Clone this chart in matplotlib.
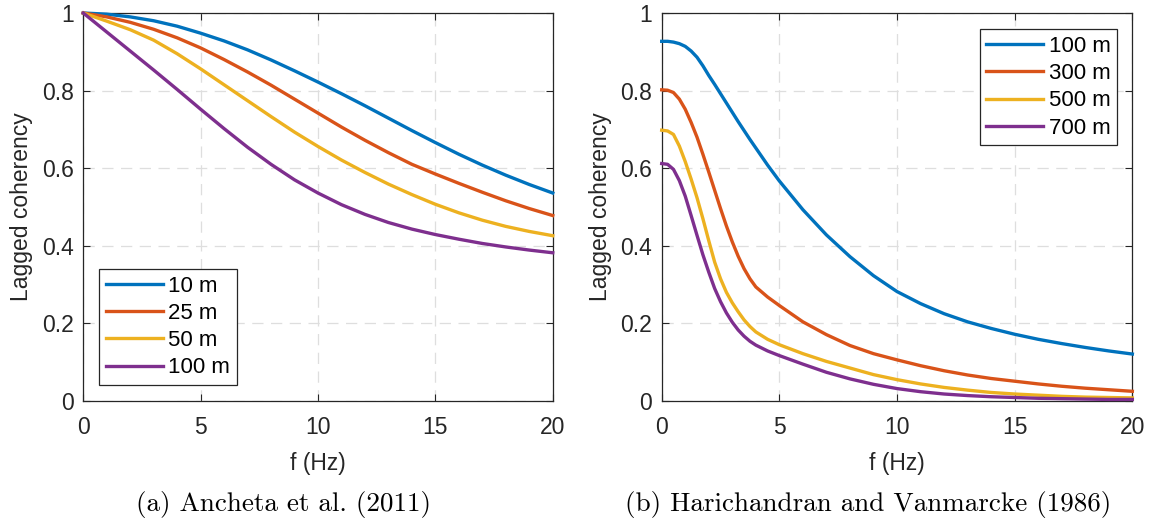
import matplotlib.pyplot as plt

# frequency (Hz)
f_a = list(range(21))
f_b = [0, 0.25, 0.5, 0.75, 1, 1.25, 1.5, 1.75, 2, 2.25, 2.5, 2.75, 3, 3.25, 3.5,
       3.75, 4, 4.5, 5, 6, 7, 8, 9, 10, 11, 12, 13, 14, 15, 16, 17, 18, 19, 20]

# (a) Ancheta et al. (2011)
anc_10 = [1, 0.997, 0.990, 0.980, 0.966, 0.948, 0.928, 0.905, 0.879, 0.851, 0.822,
          0.792, 0.761, 0.729, 0.697, 0.666, 0.636, 0.608, 0.582, 0.558, 0.536]
anc_25 = [1, 0.990, 0.976, 0.958, 0.936, 0.910, 0.880, 0.848, 0.814, 0.778, 0.742,
          0.706, 0.672, 0.640, 0.610, 0.585, 0.561, 0.538, 0.516, 0.496, 0.478]
anc_50 = [1, 0.979, 0.957, 0.930, 0.895, 0.856, 0.815, 0.774, 0.733, 0.693, 0.656,
          0.621, 0.589, 0.559, 0.532, 0.507, 0.485, 0.466, 0.450, 0.437, 0.426]
anc_100 = [1, 0.951, 0.902, 0.853, 0.803, 0.752, 0.702, 0.654, 0.610, 0.570, 0.536,
           0.506, 0.481, 0.460, 0.443, 0.429, 0.417, 0.406, 0.397, 0.389, 0.382]

# (b) Harichandran and Vanmarcke (1986)
hv_100 = [0.927, 0.927, 0.925, 0.921, 0.914, 0.902, 0.886, 0.864, 0.839, 0.816,
          0.792, 0.768, 0.744, 0.720, 0.697, 0.674, 0.652, 0.608, 0.567,
          0.493, 0.428, 0.372, 0.323, 0.282, 0.251, 0.225, 0.204, 0.187, 0.172,
          0.159, 0.148, 0.138, 0.129, 0.121]
hv_300 = [0.802, 0.801, 0.795, 0.778, 0.752, 0.718, 0.680, 0.636, 0.590, 0.543,
          0.496, 0.451, 0.410, 0.373, 0.341, 0.315, 0.294, 0.268, 0.246,
          0.204, 0.171, 0.143, 0.122, 0.106, 0.091, 0.078, 0.067, 0.058, 0.051,
          0.044, 0.038, 0.033, 0.029, 0.025]
hv_500 = [0.698, 0.696, 0.687, 0.657, 0.617, 0.572, 0.524, 0.470, 0.413, 0.358,
          0.315, 0.280, 0.253, 0.230, 0.209, 0.192, 0.178, 0.159, 0.145,
          0.122, 0.102, 0.085, 0.068, 0.055, 0.044, 0.035, 0.028, 0.022, 0.018,
          0.015, 0.012, 0.010, 0.009, 0.008]
hv_700 = [0.612, 0.610, 0.597, 0.568, 0.528, 0.478, 0.427, 0.377, 0.332, 0.290,
          0.256, 0.227, 0.203, 0.183, 0.167, 0.154, 0.144, 0.129, 0.117,
          0.095, 0.074, 0.057, 0.043, 0.032, 0.024, 0.018, 0.014, 0.011, 0.009,
          0.007, 0.006, 0.005, 0.004, 0.004]

labels_a = ['10 m', '25 m', '50 m', '100 m']
labels_b = ['100 m', '300 m', '500 m', '700 m']
xticks = [0, 5, 10, 15, 20]
yticks = [0, 0.2, 0.4, 0.6, 0.8, 1]
ytick_labels = ['0', '0.2', '0.4', '0.6', '0.8', '1']
captions = ['(a) Ancheta et al. (2011)', '(b) Harichandran and Vanmarcke (1986)']

colors = ['#0072BD', '#D95319', '#EDB120', '#7E2F8E']
dark = '#262626'

plt.rcParams['font.family'] = ['Liberation Sans', 'DejaVu Sans']

fig = plt.figure(figsize=(11.53, 5.22), dpi=100)
ax1 = fig.add_axes([0.0722, 0.2318, 0.4072, 0.7433])
ax2 = fig.add_axes([0.5739, 0.2318, 0.4082, 0.7433])


def style(ax):
    ax.set_xlim(0, 20)
    ax.set_ylim(0, 1)
    ax.set_xticks(xticks)
    ax.set_yticks(yticks)
    ax.set_yticklabels(ytick_labels)
    ax.set_axisbelow(True)
    ax.grid(True, color='#dedede', linestyle=(0, (9, 6)), linewidth=0.9)
    ax.tick_params(direction='in', top=True, right=True, length=5, width=0.8,
                   labelsize=16.5, colors=dark, pad=7)
    ax.tick_params(axis='x', pad=11)
    for s in ax.spines.values():
        s.set_color(dark)
        s.set_linewidth(0.9)
    ax.set_xlabel('f (Hz)', fontsize=16.5, color=dark, labelpad=9)
    ax.set_ylabel('Lagged coherency', fontsize=16.5, color=dark, labelpad=6)


def legend(ax, **kw):
    leg = ax.legend(fontsize=16, fancybox=False, framealpha=1, edgecolor=dark,
                    handlelength=2.55, handletextpad=0.25, labelspacing=0.28,
                    borderpad=0.3, borderaxespad=0, **kw)
    leg.get_frame().set_linewidth(0.9)
    return leg


for ys, lab, c in zip([anc_10, anc_25, anc_50, anc_100], labels_a, colors):
    ax1.plot(f_a, ys, color=c, lw=2.4, label=lab, clip_on=False, zorder=3)
style(ax1)
legend(ax1, loc='lower left', bbox_to_anchor=(0.034, 0.041))

for ys, lab, c in zip([hv_100, hv_300, hv_500, hv_700], labels_b, colors):
    ax2.plot(f_b, ys, color=c, lw=2.4, label=lab, clip_on=False, zorder=3)
style(ax2)
legend(ax2, loc='upper right', bbox_to_anchor=(0.9675, 0.958))

fig.text(283 / 1153, 1 - 505 / 522, captions[0], ha='center', va='center',
         family='cmr10', fontsize=19.5)
fig.text(868 / 1153, 1 - 505 / 522, captions[1], ha='center', va='center',
         family='cmr10', fontsize=19.5)

fig.savefig('out.png', dpi=100)
